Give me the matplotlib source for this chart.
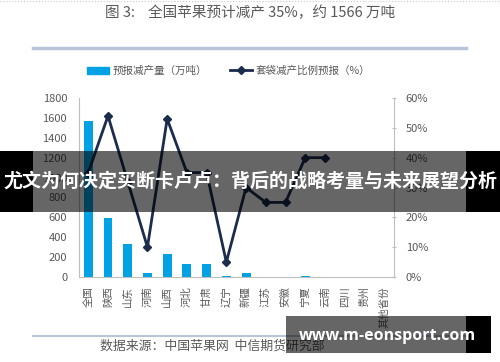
import matplotlib
matplotlib.use('Agg')
from matplotlib import pyplot as plt
from matplotlib.lines import Line2D
from matplotlib.patches import Rectangle, Patch
import numpy as np

plt.rcParams['font.family'] = ['Noto Sans CJK SC', 'DejaVu Sans']

provinces = ['全国', '陕西', '山东', '河南', '山西', '河北', '甘肃', '辽宁',
             '新疆', '江苏', '安徽', '宁夏', '云南', '四川', '贵州', '其他省份']
cut_amount = [1566, 595, 330, 40, 232, 128, 126, 10, 42, 5, 5, 15, 5, 0, 0, 0]
bag_ratio = [35, 54, 32, 10, 53, 35, 35, 5, 30, 25, 25, 40, 40,
             np.nan, np.nan, np.nan]

grey = '#595959'
bar_c = '#00A2E3'
line_c = '#1B2C4C'

fig = plt.figure(figsize=(5, 3.62), dpi=100)
ax = fig.add_axes([79/500, 1-277/362, 315/500, 179/362])
x = np.arange(len(provinces))
ax.bar(x, cut_amount, width=0.45, color=bar_c, zorder=2)
ax.set_xlim(-0.47, 15.5)
ax.set_ylim(0, 1800)
ax.set_yticks(range(0, 1801, 200))
ax.set_xticks(x)
ax.set_xticklabels(provinces, rotation=90, fontsize=7.5, color=grey)
ax.tick_params(axis='y', length=0, pad=8.5, labelsize=8, labelcolor=grey)
ax.tick_params(axis='x', length=0, pad=7)
for s in ['top', 'right']:
    ax.spines[s].set_visible(False)
for s in ['left', 'bottom']:
    ax.spines[s].set_color('#BFBFBF')

ax2 = ax.twinx()
ax2.plot(x, bag_ratio, '-', color=line_c, lw=2, marker='D', markersize=4.5, zorder=3)
ax2.set_ylim(0, 60)
ax2.set_yticks(range(0, 61, 10))
ax2.set_yticklabels([f'{v}%' for v in range(0, 61, 10)])
ax2.tick_params(axis='y', length=3, direction='inout', color='#BFBFBF',
                pad=7, labelsize=8, labelcolor=grey)
for s in ['top', 'left', 'bottom']:
    ax2.spines[s].set_visible(False)
ax2.spines['right'].set_color('#BFBFBF')

handles = [Patch(color=bar_c),
           Line2D([], [], color=line_c, lw=2, marker='D', markersize=4)]
fig.legend(handles, ['预报减产量（万吨）', '套袋减产比例预报（%）'], ncol=2,
           loc='center', bbox_to_anchor=(0.457, 1-71/362), frameon=False,
           fontsize=7.6, labelcolor=grey, handlelength=2.1,
           handletextpad=0.3, columnspacing=2.2)

# 标题与分隔线
fig.text(0.5, 1-13/362, '图 3:    全国苹果预计减产 35%，约 1566 万吨',
         ha='center', va='center', fontsize=10.5, color=grey)
fig.add_artist(Line2D([0, 1], [0.998, 0.998], transform=fig.transFigure,
                      color='#C8C8C8', lw=0.8, ls=':'))
fig.add_artist(Line2D([33/500, 466/500], [1-47.5/362]*2, transform=fig.transFigure,
                      color='#B8C4D8', lw=2.5))
fig.add_artist(Line2D([33/500, 466/500], [1-336/362]*2, transform=fig.transFigure,
                      color='#B8C4D8', lw=1.5))
fig.text(100/500, 1-346/362, '数据来源：中国苹果网  中信期货研究部',
         ha='left', va='center', fontsize=9.3, color=grey)

# 横幅
fig.add_artist(Rectangle((33/500, 1-212/362), 433/500, 61/362, transform=fig.transFigure,
                         facecolor='black', alpha=0.6, lw=0, zorder=5))
fig.add_artist(Rectangle((0, 1-212/362), 33/500, 61/362, transform=fig.transFigure,
                         facecolor='black', lw=0, zorder=5))
fig.add_artist(Rectangle((466/500, 1-212/362), 34/500, 61/362, transform=fig.transFigure,
                         facecolor='black', lw=0, zorder=5))
fig.text(0.5, 1-181/362, '尤文为何决定买断卡卢卢：背后的战略考量与未来展望分析',
         ha='center', va='center', fontsize=13.7, fontweight='bold',
         color='white', zorder=6)

# 网址水印
fig.add_artist(Rectangle((286/500, 1-353/362), 180/500, 37/362, transform=fig.transFigure,
                         facecolor='black', alpha=0.6, lw=0, zorder=5))
fig.add_artist(Rectangle((466/500, 1-353/362), 25/500, 37/362, transform=fig.transFigure,
                         facecolor='black', lw=0, zorder=5))
fig.text(387/500, 1-336/362, 'www.m-eonsport.com', ha='center', va='center',
         fontsize=11.5, fontweight='bold', family=['Open Sans', 'DejaVu Sans'],
         color='white', zorder=6)

fig.savefig('out.png', dpi=100)
